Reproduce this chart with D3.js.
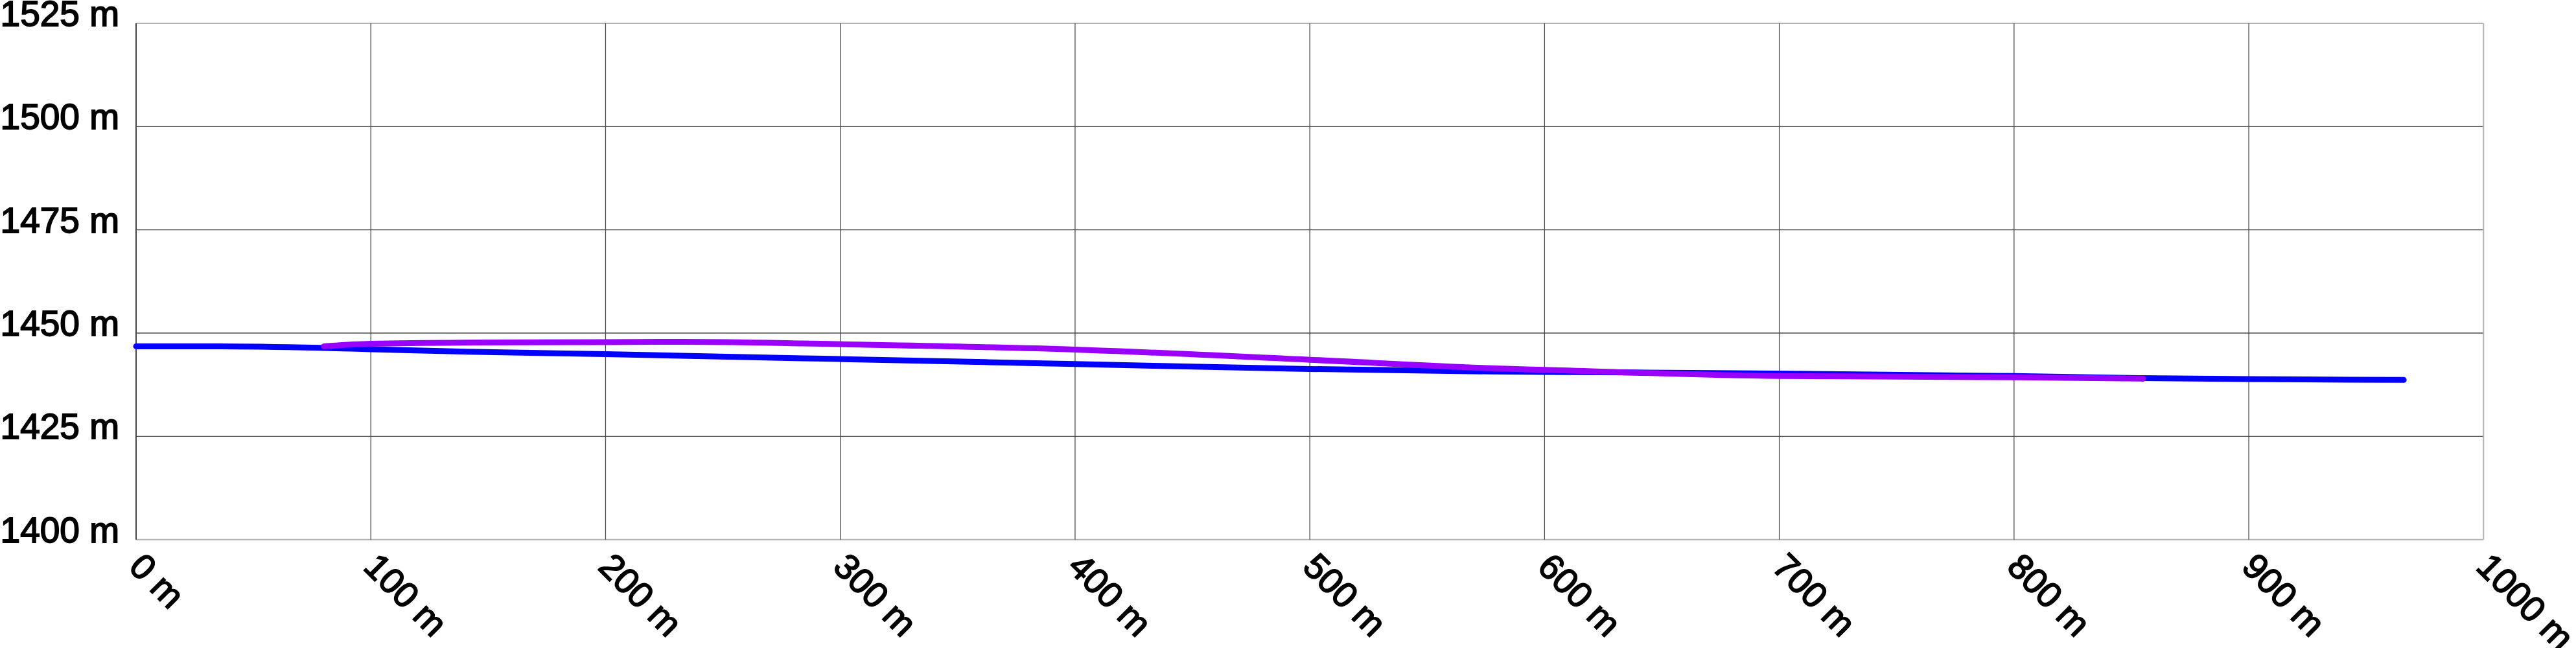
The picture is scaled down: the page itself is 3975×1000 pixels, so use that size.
<!DOCTYPE html>
<html>
<head>
<meta charset="utf-8">
<script src="https://cdn.jsdelivr.net/npm/d3@7/dist/d3.min.js"></script>
<style>
  html, body { margin: 0; padding: 0; background: #ffffff; }
  svg { display: block; }
  text { font-family: "Liberation Sans", Arial, sans-serif; }
</style>
</head>
<body>
<script>
// ---- data ----
const xTicks = [0, 100, 200, 300, 400, 500, 600, 700, 800, 900, 1000];
const yTicks = [1400, 1425, 1450, 1475, 1500, 1525];

const blueDist = [0, 35, 80, 100, 141, 200, 284, 301, 400, 500, 577, 600, 700, 800, 853, 900, 966];
const blueElev = [1446.8, 1446.8, 1446.4, 1446.1, 1445.5, 1444.9, 1443.9, 1443.7, 1442.5, 1441.3, 1440.7, 1440.6, 1440.2, 1439.6, 1439.1, 1438.85, 1438.65];

const purpleDist = [80, 100, 141, 200, 233, 284, 301, 400, 500, 577, 600, 700, 800, 855];
const purpleElev = [1446.8, 1447.4, 1447.7, 1447.8, 1447.9, 1447.5, 1447.3, 1446.0, 1443.55, 1441.5, 1441.1, 1439.6, 1439.3, 1438.96];

// ---- layout ----
const W = 3975, H = 1000;
const plotL = 210, plotR = 3832.3, plotT = 36, plotB = 832.7;

const svg = d3.select("body").append("svg")
  .attr("width", W).attr("height", H);

const x = d3.scaleLinear().domain([0, 1000]).range([plotL, plotR]);
const y = d3.scaleLinear().domain([1400, 1525]).range([plotB, plotT]);

// grid
const grid = svg.append("g");
grid.selectAll("line.h").data(yTicks).enter().append("line")
  .attr("class", "h")
  .attr("x1", plotL).attr("x2", plotR)
  .attr("y1", d => y(d)).attr("y2", d => y(d))
  .attr("stroke", d => (d === 1400 || d === 1525) ? "#b4b4b4" : "#4a4a4a")
  .attr("stroke-width", d => (d === 1400 || d === 1525) ? 2 : 1.3);
grid.selectAll("line.v").data(xTicks).enter().append("line")
  .attr("class", "v")
  .attr("x1", d => x(d)).attr("x2", d => x(d))
  .attr("y1", plotT).attr("y2", plotB)
  .attr("stroke", d => d === 0 ? "#444" : (d === 1000 ? "#b4b4b4" : "#4a4a4a"))
  .attr("stroke-width", d => d === 0 ? 2 : (d === 1000 ? 2 : 1.3));

// y labels
svg.append("g").selectAll("text").data(yTicks).enter().append("text")
  .attr("x", plotL - 26)
  .attr("y", d => y(d) + 4)
  .attr("text-anchor", "end")
  .attr("font-size", 55)
  .attr("fill", "#000")
  .attr("stroke", "#000").attr("stroke-width", 1.8)
  .text(d => d + " m");

// x labels
svg.append("g").selectAll("text").data(xTicks).enter().append("text")
  .attr("transform", d => `translate(${x(d)},${plotB}) rotate(45)`)
  .attr("x", 22).attr("y", 41)
  .attr("text-anchor", "start")
  .attr("font-size", 55)
  .attr("fill", "#000")
  .attr("stroke", "#000").attr("stroke-width", 1.8)
  .text(d => d + " m");

// lines
const line = d3.line().x(d => x(d[0])).y(d => y(d[1])).curve(d3.curveMonotoneX);
const blue = blueDist.map((d, i) => [d, blueElev[i]]);
const purple = purpleDist.map((d, i) => [d, purpleElev[i]]);

svg.append("path").datum(blue)
  .attr("d", line).attr("fill", "none")
  .attr("stroke", "#0000ff").attr("stroke-width", 9)
  .attr("stroke-linecap", "round").attr("stroke-linejoin", "round");

svg.append("path").datum(purple)
  .attr("d", line).attr("fill", "none")
  .attr("stroke", "#9900ff").attr("stroke-width", 9)
  .attr("stroke-linecap", "round").attr("stroke-linejoin", "round");
</script>
</body>
</html>
